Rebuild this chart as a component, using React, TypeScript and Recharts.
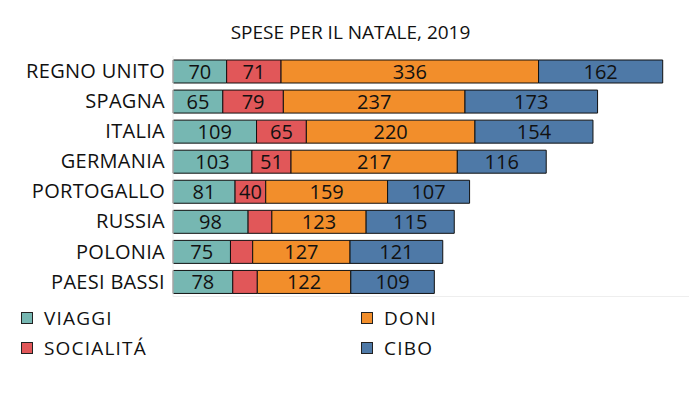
import React from 'react';
import { BarChart, Bar, XAxis, YAxis, LabelList } from 'recharts';

const countries = ['REGNO UNITO', 'SPAGNA', 'ITALIA', 'GERMANIA', 'PORTOGALLO', 'RUSSIA', 'POLONIA', 'PAESI BASSI'];
const viaggi = [70, 65, 109, 103, 81, 98, 75, 78];
const socialita = [71, 79, 65, 51, 40, 31, 29, 32];
const doni = [336, 237, 220, 217, 159, 123, 127, 122];
const cibo = [162, 173, 154, 116, 107, 115, 121, 109];

const series = [
  { key: 'viaggi', name: 'VIAGGI', color: '#76b7b2' },
  { key: 'socialita', name: 'SOCIALITÁ', color: '#e15759' },
  { key: 'doni', name: 'DONI', color: '#f28e2b' },
  { key: 'cibo', name: 'CIBO', color: '#4e79a7' },
];

const data = countries.map((c, i) => ({
  country: c,
  viaggi: viaggi[i],
  socialita: socialita[i],
  doni: doni[i],
  cibo: cibo[i],
}));

const FONT = '"Open Sans", "Noto Sans", sans-serif';

// tableau hides labels that don't fit in the segment
const fitLabel = (v: any) => (Number(v) >= 35 ? v : '');

const legendPos = [
  { left: 21, top: 312 },
  { left: 21, top: 342 },
  { left: 361, top: 312 },
  { left: 361, top: 342 },
];

export default function App() {
  return (
    <div style={{ position: 'absolute', left: 0, top: 0, width: 699, height: 399, background: '#fff', fontFamily: FONT }}>
      <div
        style={{
          position: 'absolute',
          left: 0,
          width: 699,
          top: 20,
          textAlign: 'center',
          fontSize: 19,
          color: '#111',
          paddingLeft: 2,
          boxSizing: 'border-box',
          lineHeight: '24px',
        }}
      >
        SPESE PER IL NATALE, 2019
      </div>
      <BarChart
        width={699}
        height={300}
        data={data}
        layout="vertical"
        barSize={23}
        margin={{ top: 56, right: 11, bottom: 3.5, left: 0 }}
      >
        <XAxis type="number" domain={[0, 672]} hide />
        <YAxis
          type="category"
          dataKey="country"
          width={173}
          interval={0}
          tickLine={false}
          axisLine={{ stroke: '#eeeeee' }}
          tick={{ fill: '#111', fontSize: 20, fontFamily: FONT, letterSpacing: 0.3 }}
        />
        {series.map((s) => (
          <Bar
            key={s.key}
            dataKey={s.key}
            name={s.name}
            stackId="a"
            fill={s.color}
            stroke="#111"
            strokeWidth={1}
            isAnimationActive={false}
          >
            <LabelList
              dataKey={s.key}
              position="center"
              formatter={fitLabel}
              style={{ fill: '#111', fontSize: 20, fontFamily: FONT }}
            />
          </Bar>
        ))}
      </BarChart>
      <div style={{ position: 'absolute', left: 173, top: 296, width: 516, height: 1, background: '#eeeeee' }} />
      {series.map((s, i) => (
        <div
          key={s.key}
          style={{
            position: 'absolute',
            left: legendPos[i].left,
            top: legendPos[i].top,
            display: 'flex',
            alignItems: 'center',
            fontSize: 19,
            letterSpacing: 1.2,
            color: '#111',
          }}
        >
          <span style={{ width: 10, height: 10, background: s.color, border: '1px solid #222', display: 'inline-block' }} />
          <span style={{ marginLeft: 11, lineHeight: '12px' }}>{s.name}</span>
        </div>
      ))}
    </div>
  );
}
